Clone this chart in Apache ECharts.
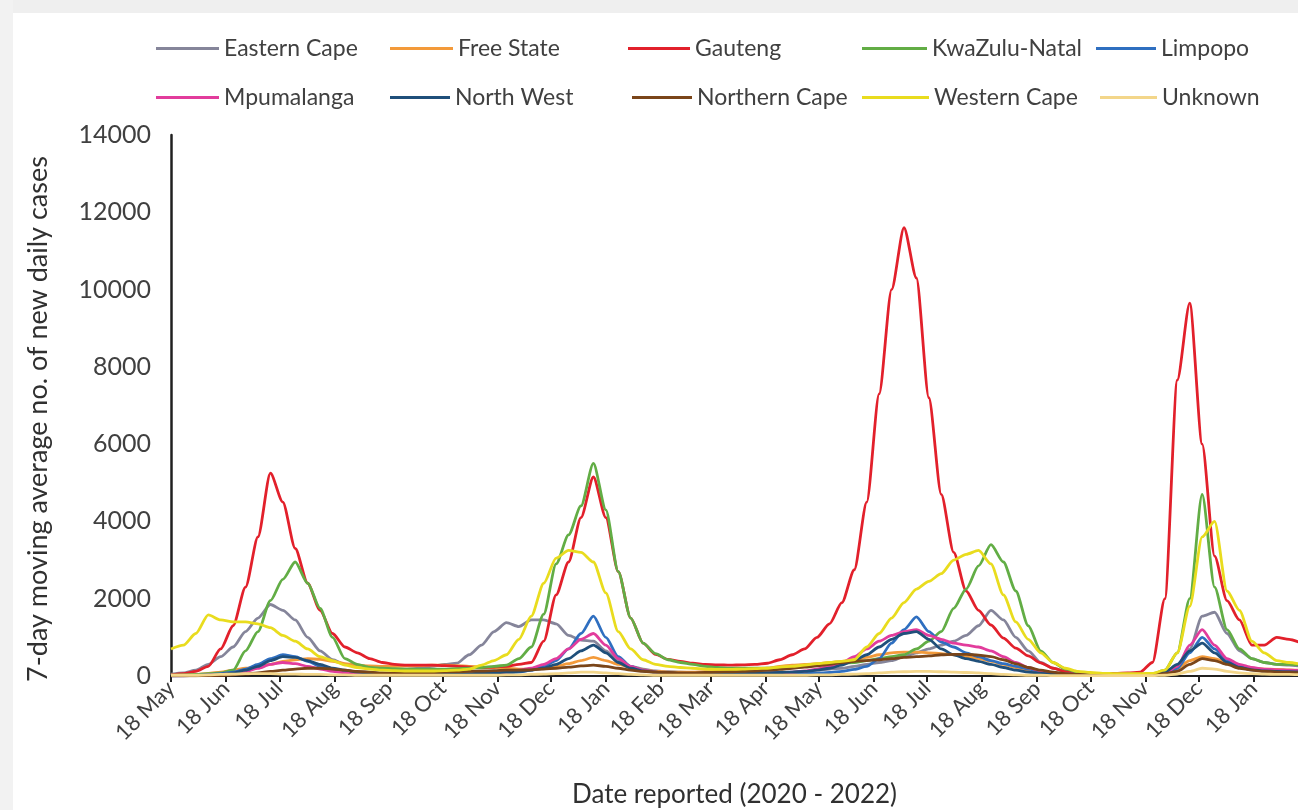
<!DOCTYPE html>
<html><head><meta charset="utf-8">
<script src="https://cdn.jsdelivr.net/npm/echarts@6/dist/echarts.min.js"></script>
<style>html,body{margin:0;padding:0;background:#fff;} #c{width:1298px;height:810px;}</style>
</head><body><div id="c"></div>
<script>
// ---- DATA ----
const dates = [
'2020-05-18','2020-05-25','2020-06-01','2020-06-08','2020-06-15','2020-06-22','2020-06-29','2020-07-06','2020-07-13','2020-07-20',
'2020-07-27','2020-08-03','2020-08-10','2020-08-17','2020-08-24','2020-08-31','2020-09-07','2020-09-14','2020-09-21','2020-09-28',
'2020-10-05','2020-10-12','2020-10-19','2020-10-26','2020-11-02','2020-11-09','2020-11-16','2020-11-23','2020-11-30','2020-12-07',
'2020-12-14','2020-12-21','2020-12-28','2021-01-04','2021-01-11','2021-01-18','2021-01-25','2021-02-01','2021-02-08','2021-02-15',
'2021-02-22','2021-03-01','2021-03-08','2021-03-15','2021-03-22','2021-03-29','2021-04-05','2021-04-12','2021-04-19','2021-04-26',
'2021-05-03','2021-05-10','2021-05-17','2021-05-24','2021-05-31','2021-06-07','2021-06-14','2021-06-21','2021-06-28','2021-07-05',
'2021-07-12','2021-07-19','2021-07-26','2021-08-02','2021-08-09','2021-08-16','2021-08-23','2021-08-30','2021-09-06','2021-09-13',
'2021-09-20','2021-09-27','2021-10-04','2021-10-11','2021-10-18','2021-10-25','2021-11-01','2021-11-08','2021-11-15','2021-11-22',
'2021-11-29','2021-12-06','2021-12-13','2021-12-20','2021-12-27','2022-01-03','2022-01-10','2022-01-17','2022-01-24','2022-01-31',
'2022-02-07','2022-02-14'];

const easternCape = [50,80,150,300,500,750,1150,1500,1850,1700, 1450,1000,650,420,300,230,200,180,170,180,
 200,250,300,330,550,800,1150,1380,1280,1450, 1450,1350,1050,930,900,650,400,250,180,130,
 110,100,90,90,90,90,90,90,100,100, 100,120,150,180,200,250,300,350,400,500,
 600,700,800,900,1050,1300,1700,1450,1000,650, 350,200,120,80,60,50,40,40,40,40,
 60,150,700,1550,1650,1100,650,450,350,300, 280,250];
const freeState = [10,20,40,70,100,150,200,250,300,380, 420,450,430,380,320,280,260,250,250,260,
 270,280,280,270,250,230,220,200,180,170, 200,250,320,400,480,400,300,220,160,120,
 100,100,100,110,120,130,150,170,200,250, 280,300,320,350,380,420,480,550,600,620,
 620,600,580,550,500,450,380,300,220,150, 100,70,50,40,30,30,30,30,30,40,
 80,200,400,500,450,350,250,200,180,170, 160,150];
const gauteng = [30,60,120,250,700,1300,2300,3600,5250,4500, 3300,2400,1700,1100,750,600,450,350,300,280,
 280,280,270,250,230,220,230,250,300,350, 900,2100,2950,4100,5150,4100,2700,1500,850,560,
 430,380,330,300,290,280,290,300,330,420, 550,700,1000,1350,1900,2750,4500,7300,10000,11600,
 10300,7200,4700,3200,2200,1700,1320,980,720,520, 340,200,120,90,70,70,70,80,100,350,
 2000,7660,9650,6000,3100,1950,1450,800,800,1000, 950,850];
const kwaZuluNatal = [20,30,40,60,80,150,650,1150,1950,2500, 2950,2400,1750,1000,450,300,220,200,190,180,
 180,180,180,190,200,220,250,280,450,750, 1600,2900,3650,4400,5500,4300,2700,1500,850,580,
 420,350,300,250,220,200,200,200,200,210, 220,250,280,300,330,350,400,450,500,550,
 700,900,1150,1750,2250,2850,3400,2950,2200,1300, 650,350,180,100,70,60,50,50,50,60,
 150,600,2000,4700,2300,1200,700,450,350,300, 300,280];
const limpopo = [5,10,15,30,60,100,180,300,450,550, 500,380,250,150,100,70,60,50,40,40,
 40,40,40,40,40,50,60,80,100,150, 250,400,700,1100,1550,1000,500,250,150,100,
 70,60,50,40,40,40,40,40,50,50, 50,60,70,90,120,170,250,450,850,1200,
 1530,1150,880,750,600,500,400,320,250,180, 120,80,50,40,30,30,30,30,30,40,
 80,200,600,1000,700,400,250,180,150,130, 120,110];
const mpumalanga = [5,5,10,20,40,70,120,200,300,350, 320,250,180,120,80,60,50,40,40,40,
 40,40,40,40,50,60,80,100,150,200, 300,450,700,950,1100,800,450,250,150,100,
 80,60,50,50,50,50,50,60,70,80, 100,130,180,250,350,500,700,900,1050,1150,
 1200,1050,950,850,800,750,650,500,350,220, 130,80,50,40,30,30,30,30,30,40,
 80,250,800,1200,800,450,300,220,180,160, 150,140];
const northWest = [5,5,10,20,40,80,150,250,400,500, 480,400,300,200,150,100,80,70,60,60,
 60,60,60,60,60,70,80,100,120,150, 200,300,450,650,800,600,350,200,130,100,
 80,70,60,60,60,60,60,70,80,90, 100,120,150,200,280,400,550,750,950,1100,
 1150,950,700,550,450,380,300,220,150,100, 70,50,40,30,30,30,30,30,30,40,
 100,300,650,850,600,350,220,160,130,120, 110,100];
const northernCape = [5,5,5,10,15,30,50,80,120,150, 180,200,200,180,150,120,100,80,70,70,
 80,90,100,110,120,130,140,150,150,160, 180,200,230,260,280,250,200,150,120,100,
 90,80,80,90,100,110,120,130,150,170, 200,230,260,300,350,380,400,420,450,480,
 500,520,550,560,560,540,500,420,320,220, 150,100,60,40,30,30,30,30,30,40,
 60,120,300,450,400,300,200,150,120,100, 90,80];
const westernCape = [700,800,1100,1580,1450,1400,1400,1350,1250,1050, 900,700,500,400,280,220,180,150,140,130,
 130,130,140,150,180,280,400,550,950,1550, 2400,3050,3250,3200,2950,2150,1150,700,420,300,
 250,220,200,180,170,170,180,190,200,230, 250,280,320,350,380,420,750,1100,1500,1900,
 2250,2450,2650,3000,3150,3250,2900,2100,1400,950, 600,350,200,120,90,70,60,60,60,70,
 150,600,1800,3600,4000,2200,1700,900,600,400, 350,300];
const unknown = [20,20,20,30,40,50,60,60,60,50, 50,40,40,30,30,20,20,20,20,20,
 20,20,20,20,20,20,20,30,30,40, 50,60,80,100,100,80,60,40,30,20,
 20,20,20,20,20,20,20,20,20,20, 20,20,30,30,40,50,60,80,100,110,
 120,120,110,100,90,80,60,40,30,20, 20,10,10,10,10,10,10,10,10,10,
 20,50,120,200,180,120,80,60,50,40, 40,30];

const seriesNames = ['Eastern Cape','Free State','Gauteng','KwaZulu-Natal','Limpopo',
  'Mpumalanga','North West','Northern Cape','Western Cape','Unknown'];
const seriesValues = [easternCape,freeState,gauteng,kwaZuluNatal,limpopo,
  mpumalanga,northWest,northernCape,westernCape,unknown];
const seriesColors = ['#85859a','#f39a3a','#e2202b','#62ad45','#2f6fc0',
  '#e23c9c','#1f4f7a','#7a4519','#e9dc1e','#f3d68a'];

const tickDates = ['2020-05-18','2020-06-18','2020-07-18','2020-08-18','2020-09-18','2020-10-18','2020-11-18',
 '2020-12-18','2021-01-18','2021-02-18','2021-03-18','2021-04-18','2021-05-18','2021-06-18','2021-07-18',
 '2021-08-18','2021-09-18','2021-10-18','2021-11-18','2021-12-18','2022-01-18'];
const tickLabels = ['18 May','18 Jun','18 Jul','18 Aug','18 Sep','18 Oct','18 Nov','18 Dec','18 Jan','18 Feb',
 '18 Mar','18 Apr','18 May','18 Jun','18 Jul','18 Aug','18 Sep','18 Oct','18 Nov','18 Dec','18 Jan'];
const yTicks = [0,2000,4000,6000,8000,10000,12000,14000];
const axisStart = '2020-05-18';
const axisEnd = '2022-02-12';
const xTitle = 'Date reported (2020 - 2022)';
const yTitle = '7-day moving average no. of new daily cases';

// ---- CHART ----
function dayNo(s){ const p = s.split('-').map(Number); return Math.round((Date.UTC(p[0],p[1]-1,p[2]) - Date.UTC(2020,4,18))/86400000); }
const tickDays = tickDates.map(dayNo);
const FONT = 'Lato';

const legendPos = [
  {l:156,t:48,w:63},{l:390,t:48,w:63},{l:628,t:48,w:62},{l:862,t:48,w:65},{l:1096,t:48,w:60},
  {l:156,t:97,w:63},{l:390,t:97,w:60},{l:632,t:97,w:60},{l:862,t:97,w:67},{l:1100,t:97,w:57}
];
const legends = seriesNames.map((n,i)=>({
  data:[n], left:legendPos[i].l, top:legendPos[i].t-11, padding:0,
  icon:'rect', itemWidth:legendPos[i].w, itemHeight:3, selectedMode:false,
  textStyle:{fontFamily:FONT, fontSize:23, color:'#404040'}
}));

const series = seriesNames.map((n,i)=>({
  name:n, type:'line', showSymbol:false, symbol:'none', smooth:0.25, smoothMonotone:'x',
  lineStyle:{width:2.8, color:seriesColors[i]}, itemStyle:{color:seriesColors[i]},
  data: dates.map((d,k)=>[dayNo(d), seriesValues[i][k]])
}));

const chart = echarts.init(document.getElementById('c'), null, {renderer:'canvas'});
chart.setOption({
  backgroundColor:'#ffffff',
  animation:false,
  graphic:[
    {type:'rect', left:0, top:0, shape:{width:1298,height:13}, style:{fill:'#efefef'}, z:-10},
    {type:'rect', left:0, top:0, shape:{width:13,height:810}, style:{fill:'#f2f2f2'}, z:-10},
    {type:'text', x:38, y:419, rotation:Math.PI/2,
     style:{text:yTitle, font:'27px Lato', fill:'#303030', align:'center', verticalAlign:'middle'}}
  ],
  legend: legends,
  grid:{left:171, right:0, top:135, bottom:134, containLabel:false, outerBoundsMode:'none'},
  xAxis:{
    type:'value', min:dayNo(axisStart), max:dayNo(axisEnd),
    name:xTitle, nameLocation:'middle', nameGap:106,
    nameTextStyle:{fontFamily:FONT, fontSize:26, color:'#303030'},
    axisLine:{show:true, onZero:false, lineStyle:{color:'#202020', width:2}},
    axisTick:{show:true, length:6, customValues:tickDays, lineStyle:{color:'#202020', width:2}},
    axisLabel:{customValues:tickDays, rotate:45, margin:9, fontFamily:FONT, fontSize:22, color:'#404040',
      formatter:function(v){ const i = tickDays.indexOf(Math.round(v)); return i>=0 ? tickLabels[i] : ''; }},
    splitLine:{show:false}
  },
  yAxis:{
    type:'value', min:0, max:14000, interval:2000,
    axisLine:{show:true, lineStyle:{color:'#202020', width:2.5}},
    axisTick:{show:false},
    axisLabel:{margin:20, fontFamily:FONT, fontSize:25, color:'#404040',
      formatter:function(v){ return yTicks.indexOf(v)>=0 ? String(v) : ''; }},
    splitLine:{show:false}
  },
  series: series
});
</script></body></html>
